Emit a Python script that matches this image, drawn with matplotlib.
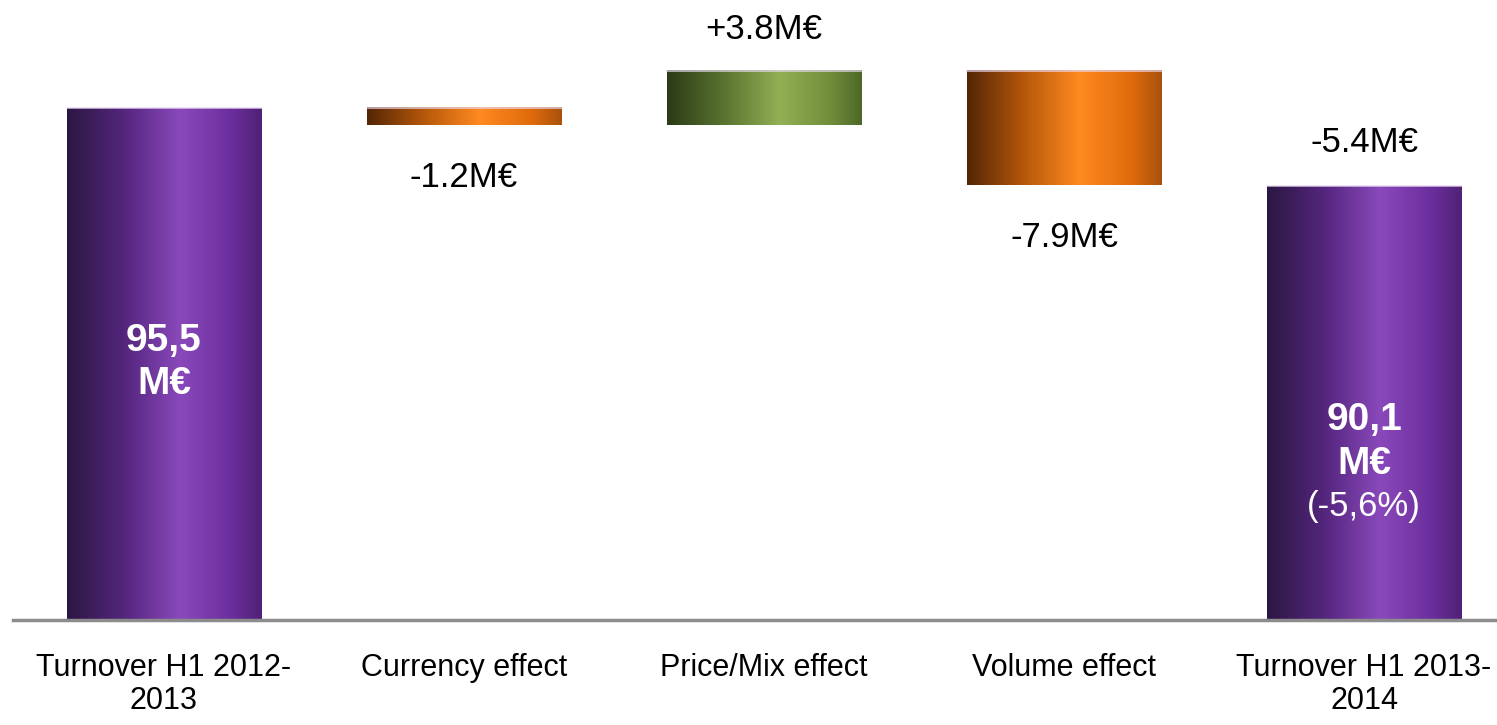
import numpy as np
import matplotlib
matplotlib.use("Agg")
import matplotlib.pyplot as plt
from matplotlib.colors import LinearSegmentedColormap

plt.rcParams['font.family'] = ['Liberation Sans Narrow', 'Liberation Sans', 'DejaVu Sans']

categories = ["Turnover H1 2012-\n2013", "Currency effect", "Price/Mix effect",
              "Volume effect", "Turnover H1 2013-\n2014"]
start_value = 95.5
deltas = [-1.2, 3.8, -7.9]
end_value = 90.1
delta_labels = ["-1.2M€", "+3.8M€", "-7.9M€"]
total_change_label = "-5.4M€"
start_lines = ["95,5", "M€"]
end_lines = ["90,1", "M€"]
end_pct_label = "(-5,6%)"
y_min = 60.05

purple = LinearSegmentedColormap.from_list("p", [(0, "#2b1742"), (0.3, "#55267e"), (0.58, "#8a49bb"), (0.85, "#6b2d9c"), (1, "#4f2275")])
orange = LinearSegmentedColormap.from_list("o", [(0, "#532605"), (0.3, "#b8590b"), (0.58, "#ff8a20"), (0.85, "#df6a0c"), (1, "#a9520d")])
green = LinearSegmentedColormap.from_list("g", [(0, "#2b3a17"), (0.3, "#5a7530"), (0.58, "#93b055"), (0.85, "#6f8c3a"), (1, "#4d6826")])

W, H = 1497, 725
fig = plt.figure(figsize=(W/100, H/100), dpi=100)
ax = fig.add_axes([13/W, 105/H, 1 - 13/W, 620/H])
ax.set_xlim(-0.503, 4.443)
ax.set_ylim(y_min, y_min + 620/14.44)

width = 194/300
grad = np.linspace(0, 1, 256).reshape(1, -1)

def gbar(x, bottom, top, cmap):
    ax.imshow(grad, cmap=cmap, aspect='auto', extent=(x - width/2, x + width/2, bottom, top),
              interpolation='bicubic', zorder=2)
    ax.plot([x - width/2, x + width/2], [top, top], color="#e8d8f0", lw=1.2, zorder=3, alpha=0.8)

# bars
gbar(0, y_min, start_value, purple)
level = start_value
tops = []
for i, d in enumerate(deltas):
    new = level + d
    cmap = green if d > 0 else orange
    gbar(i + 1, min(level, new), max(level, new), cmap)
    tops.append((level, new))
    level = new
gbar(4, y_min, end_value, purple)

# delta labels
fs = 25
for i, d in enumerate(deltas):
    lo, hi = min(tops[i]), max(tops[i])
    if d > 0:
        ax.annotate(delta_labels[i], (i + 1, hi), xytext=(0, 25), textcoords='offset pixels',
                    ha='center', va='bottom', fontsize=fs)
    else:
        ax.annotate(delta_labels[i], (i + 1, lo), xytext=(0, -36), textcoords='offset pixels',
                    ha='center', va='top', fontsize=fs)
ax.annotate(total_change_label, (4, end_value), xytext=(0, 27), textcoords='offset pixels',
            ha='center', va='bottom', fontsize=fs)

# inside labels
fsb = 28
for j, t in enumerate(start_lines):
    ax.annotate(t, (0, start_value), xytext=(0, -233 - 43 * j), textcoords='offset pixels',
                ha='center', va='center', color='white', fontsize=fsb, fontweight='bold')
for j, t in enumerate(end_lines):
    ax.annotate(t, (4, end_value), xytext=(0, -234 - 44 * j), textcoords='offset pixels',
                ha='center', va='center', color='white', fontsize=fsb, fontweight='bold')
ax.annotate(end_pct_label, (4, end_value), xytext=(0, -320), textcoords='offset pixels',
            ha='center', va='center', color='white', fontsize=fs)

for s in ['top', 'right', 'left']:
    ax.spines[s].set_visible(False)
ax.spines['bottom'].set_color('#8c8c8c')
ax.spines['bottom'].set_linewidth(2.5)
ax.spines['bottom'].set_zorder(5)
ax.set_yticks([])
ax.set_xticks(range(len(categories)))
ax.set_xticklabels(categories, fontsize=22, linespacing=1.12)
ax.tick_params(axis='x', length=0, pad=24)

fig.savefig("out.png", dpi=100)
